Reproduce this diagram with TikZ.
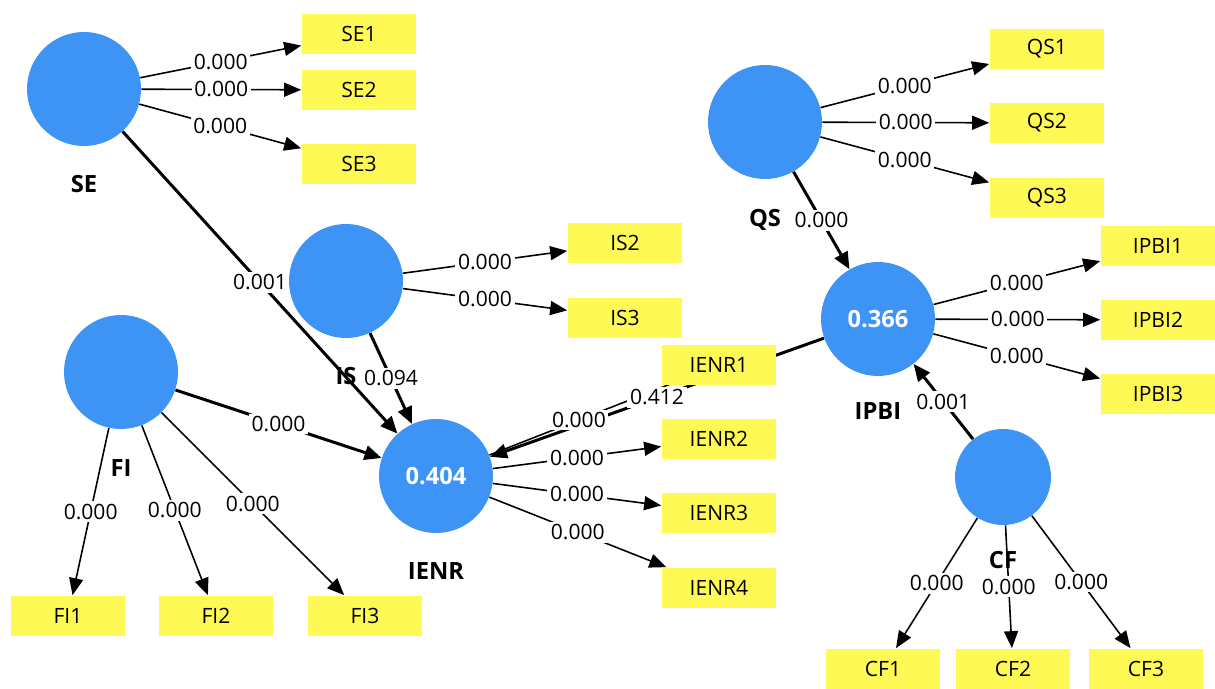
\documentclass[tikz,border=0pt]{standalone}
\usepackage{fontspec}
\setmainfont{Open Sans}
\usepackage{tikz}
\usetikzlibrary{arrows.meta,positioning,backgrounds}
\definecolor{PLS_Blue}{HTML}{3D94F5}
\definecolor{PLS_Yellow}{HTML}{FFF955}
\newcommand{\plsfont}{\fontsize{12}{14}\selectfont}
\newcommand{\plsbold}{\fontsize{13.5}{15}\selectfont\bfseries}

\begin{document}
\begin{tikzpicture}[x=0.02cm, y=-0.02cm,
    latent/.style={circle, fill=PLS_Blue, minimum size=2.28cm, inner sep=0pt, text=white, font=\plsbold},
    indicator/.style={rectangle, fill=PLS_Yellow, minimum width=2.3cm, minimum height=0.82cm, inner sep=0pt, font=\plsfont},
    lvname/.style={inner sep=0pt, font=\plsbold},
    loading/.style={-{Triangle[length=3.4mm,width=2.8mm]}, line width=0.9pt},
    structural/.style={-{Triangle[length=3.4mm,width=2.9mm]}, line width=1.7pt},
    coef/.style={fill=white, inner sep=1.5pt, font=\plsfont}]
    \useasboundingbox (0,0) rectangle (1215,689);

    % Latent variables
    \node[latent] (SE) at (84,89) {};
    \node[latent] (IS) at (346,281) {};
    \node[latent] (FI) at (121,372) {};
    \node[latent] (IENR) at (436,476) {0.404};
    \node[latent] (QS) at (765,122) {};
    \node[latent] (IPBI) at (878,319) {0.366};
    \node[latent, minimum size=1.92cm] (CF) at (1003,477) {};

    % Names below the circles
    \node[lvname, below=0.58cm of SE] (SEname) {SE};
    \node[lvname, below=0.58cm of IS] (ISname) {IS};
    \node[lvname, below=0.6cm of FI] (FIname) {FI};
    \node[lvname, below=0.58cm of IENR] (IENRname) {IENR};
    \node[lvname, below=0.6cm of QS] (QSname) {QS};
    \node[lvname, below=0.52cm of IPBI] (IPBIname) {IPBI};
    \node[lvname, below=0.52cm of CF] (CFname) {CF};

    % Indicators
    \node[indicator] (SE1) at (359,34) {SE1};
    \node[indicator] (SE2) at (359,90) {SE2};
    \node[indicator] (SE3) at (359,164) {SE3};
    \node[indicator] (IS2) at (625,243) {IS2};
    \node[indicator] (IS3) at (625,318) {IS3};
    \node[indicator] (FI1) at (68,616) {FI1};
    \node[indicator] (FI2) at (216,616) {FI2};
    \node[indicator] (FI3) at (365,616) {FI3};
    \node[indicator] (IENR1) at (719,365) {IENR1};
    \node[indicator] (IENR2) at (719,439) {IENR2};
    \node[indicator] (IENR3) at (719,513) {IENR3};
    \node[indicator] (IENR4) at (719,588) {IENR4};
    \node[indicator] (QS1) at (1047,49) {QS1};
    \node[indicator] (QS2) at (1047,123) {QS2};
    \node[indicator] (QS3) at (1047,198) {QS3};
    \node[indicator] (IPBI1) at (1158,246) {IPBI1};
    \node[indicator] (IPBI2) at (1158,320) {IPBI2};
    \node[indicator] (IPBI3) at (1158,394) {IPBI3};
    \node[indicator] (CF1) at (883,669) {CF1};
    \node[indicator] (CF2) at (1013,669) {CF2};
    \node[indicator] (CF3) at (1146,669) {CF3};

    \begin{scope}[on background layer]
    \fill[white] (0,0) rectangle (1215,689);

    % Outer loadings
    \draw[loading] (SE) -- node[coef] {0.000} (SE1);
    \draw[loading] (SE) -- node[coef] {0.000} (SE2);
    \draw[loading] (SE) -- node[coef] {0.000} (SE3);
    \draw[loading] (IS) -- node[coef] {0.000} (IS2);
    \draw[loading] (IS) -- node[coef] {0.000} (IS3);
    \draw[loading] (FI) -- node[coef] {0.000} (FI1);
    \draw[loading] (FI) -- node[coef] {0.000} (FI2);
    \draw[loading] (FI) -- node[coef] {0.000} (FI3);
    \draw[loading] (IENR) -- node[coef] {0.000} (IENR2);
    \draw[loading] (IENR) -- node[coef] {0.000} (IENR3);
    \draw[loading] (IENR) -- node[coef] {0.000} (IENR4);
    \draw[loading] (QS) -- node[coef] {0.000} (QS1);
    \draw[loading] (QS) -- node[coef] {0.000} (QS2);
    \draw[loading] (QS) -- node[coef] {0.000} (QS3);
    \draw[loading] (IPBI) -- node[coef] {0.000} (IPBI1);
    \draw[loading] (IPBI) -- node[coef] {0.000} (IPBI2);
    \draw[loading] (IPBI) -- node[coef] {0.000} (IPBI3);
    \draw[loading] (CF) -- node[coef] {0.000} (CF1);
    \draw[loading] (CF) -- node[coef] {0.000} (CF2);
    \draw[loading] (CF) -- node[coef] {0.000} (CF3);

    % Inner model
    \draw[structural] (SE) -- node[coef] {0.001} (IENR);
    \draw[structural] (IS) -- node[coef] {0.094} (IENR);
    \draw[structural] (FI) -- node[coef] {0.000} (IENR);
    \draw[structural] (QS) -- node[coef] {0.000} (IPBI);
    \draw[structural] (CF) -- node[coef] {0.001} (IPBI);

    % IENR1 loading runs under the IPBI path
    \draw[loading] (IENR) -- (IENR1.center);
    \draw[structural] (IPBI) -- (IENR);
    \path (IENR) -- node[coef, pos=0.39] {0.000} (IENR1.center);
    \path (IPBI) -- node[coef] {0.412} (IENR);
    \end{scope}

\end{tikzpicture}
\end{document}
